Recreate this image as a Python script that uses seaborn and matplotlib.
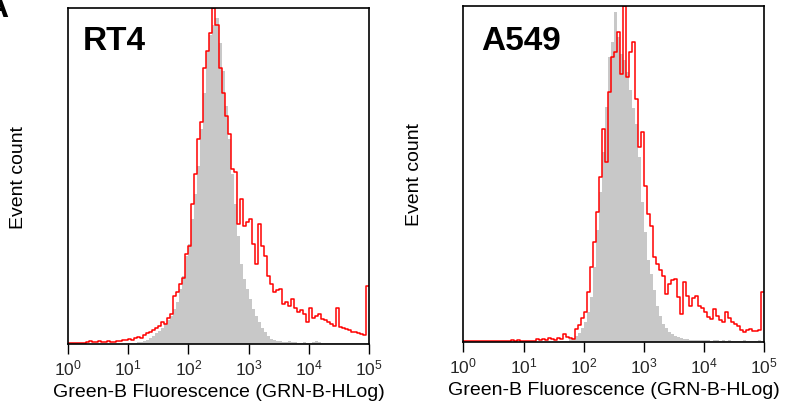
import numpy as np
import pandas as pd
import matplotlib
matplotlib.use("Agg")
import matplotlib.pyplot as plt
import seaborn as sns

# ---- data (log10 bin centres, 0.05-decade bins from 10^0 to 10^5) ----
log_centers = np.round(np.arange(0.025, 5.0, 0.05), 3)

rt4_stained = [
    1, 1, 1, 1, 1, 1, 2, 3, 2, 2,
    3, 2, 2, 3, 2, 2, 3, 3, 4, 4,
    5, 4, 6, 7, 6, 9, 11, 12, 14, 16,
    18, 22, 20, 26, 30, 48, 52, 60, 66, 90,
    98, 140, 170, 205, 222, 275, 292, 310, 335, 318,
    275, 250, 228, 210, 175, 172, 120, 145, 118, 122,
    125, 100, 80, 120, 98, 88, 68, 60, 52, 54,
    55, 40, 42, 38, 45, 36, 32, 34, 30, 22,
    36, 26, 28, 30, 25, 24, 22, 20, 18, 36,
    17, 16, 15, 14, 12, 12, 11, 10, 9, 58,
]
rt4_control = [
    0, 0, 0, 0, 0, 0, 0, 0, 0, 0,
    0, 0, 0, 0, 0, 0, 0, 0, 0, 0,
    1, 1, 1, 2, 2, 3, 4, 6, 8, 11,
    13, 16, 20, 24, 28, 35, 42, 55, 68, 88,
    100, 125, 150, 178, 215, 250, 292, 308, 318, 325,
    300, 272, 238, 205, 170, 140, 108, 80, 65, 55,
    45, 35, 28, 22, 16, 12, 8, 5, 4, 3,
    3, 2, 2, 3, 2, 2, 1, 1, 2, 1,
    1, 2, 3, 2, 1, 1, 1, 1, 1, 1,
    1, 1, 1, 1, 1, 1, 1, 1, 1, 1,
]
a549_stained = [
    1, 1, 1, 1, 1, 1, 1, 1, 1, 1,
    1, 1, 1, 1, 1, 1, 2, 1, 2, 1,
    1, 1, 1, 1, 3, 2, 3, 2, 4, 3,
    2, 4, 3, 8, 5, 4, 3, 13, 17, 24,
    30, 50, 75, 100, 130, 165, 213, 180, 250, 285,
    290, 310, 268, 336, 265, 290, 300, 243, 195, 210,
    156, 128, 116, 85, 78, 72, 66, 48, 58, 62,
    63, 45, 28, 60, 46, 36, 44, 46, 36, 34,
    30, 25, 23, 33, 26, 22, 20, 30, 24, 20,
    18, 16, 12, 10, 12, 13, 11, 11, 12, 50,
]
a549_control = [
    0, 0, 0, 0, 0, 0, 0, 0, 0, 0,
    0, 0, 0, 0, 0, 0, 0, 0, 0, 0,
    0, 0, 0, 0, 0, 0, 0, 0, 0, 0,
    0, 0, 1, 1, 1, 3, 4, 6, 9, 14,
    20, 30, 45, 75, 112, 150, 190, 235, 285, 300,
    330, 305, 288, 282, 270, 252, 234, 218, 185, 140,
    110, 82, 68, 52, 36, 26, 18, 14, 10, 8,
    6, 5, 4, 3, 3, 2, 2, 2, 2, 2,
    2, 2, 1, 2, 2, 1, 2, 1, 2, 1,
    1, 1, 1, 2, 1, 1, 1, 1, 2, 1,
]

panels = ["RT4", "A549"]
xlabel = "Green-B Fluorescence (GRN-B-HLog)"
ylabel = "Event count"
decade_ticks = [1, 10, 100, 1000, 10000, 100000]

sns.set_theme(style="ticks")
plt.rcParams["font.family"] = ["Liberation Sans", "DejaVu Sans"]
plt.rcParams["mathtext.fontset"] = "custom"
plt.rcParams["mathtext.rm"] = "Liberation Sans"

bin_edges = [float(v) for v in 10 ** np.linspace(0, 5, len(log_centers) + 1)]

fig = plt.figure(figsize=(7.86, 4.14), dpi=100)
ax_rects = [
    [67.7 / 786, (414 - 345) / 414, 301.6 / 786, 335.7 / 414],
    [463.3 / 786, (414 - 343) / 414, 301.0 / 786, 336.0 / 414],
]
label_pos = [(0.05, 0.879), (0.059, 0.872)]
series = [(rt4_control, rt4_stained), (a549_control, a549_stained)]

for rect, name, (ctrl, stain), lp in zip(ax_rects, panels, series, label_pos):
    ax = fig.add_axes(rect)
    df = pd.DataFrame({
        "x": 10 ** log_centers,
        "control": ctrl,
        "stained": stain,
    })
    sns.histplot(data=df, x="x", weights="control", bins=bin_edges,
                 element="step", fill=True, color="#c8c8c8",
                 alpha=1, linewidth=0, ax=ax)
    sns.histplot(data=df, x="x", weights="stained", bins=bin_edges,
                 element="step", fill=False, color="#ff0000",
                 linewidth=1.1, ax=ax)
    ax.set_xscale("log")
    ax.set_xlim(1, 1e5)
    ax.set_ylim(0, max(max(stain), max(ctrl)))
    ax.set_yticks([])
    ax.set_xticks(decade_ticks)
    ax.tick_params(axis="x", which="major", direction="out", length=7, width=1,
                   labelsize=12.5, pad=3, color="black")
    ax.tick_params(axis="x", which="minor", direction="out", length=3.6, width=0.9,
                   color="black", bottom=True)
    for s in ax.spines.values():
        s.set_visible(True)
        s.set_color("black")
        s.set_linewidth(1.2)
    ax.set_xlabel(xlabel, fontsize=14, labelpad=4, color="black")
    ax.set_ylabel(ylabel, fontsize=14, labelpad=29, color="black")
    ax.text(lp[0], lp[1], name, transform=ax.transAxes, fontsize=24,
            fontweight="bold", ha="left", va="baseline", color="black")

fig.text(8 / 786, (414 - 17) / 414, "A", fontsize=24, fontweight="bold",
         ha="right", va="baseline", color="black")

fig.savefig("out.png", dpi=100)
